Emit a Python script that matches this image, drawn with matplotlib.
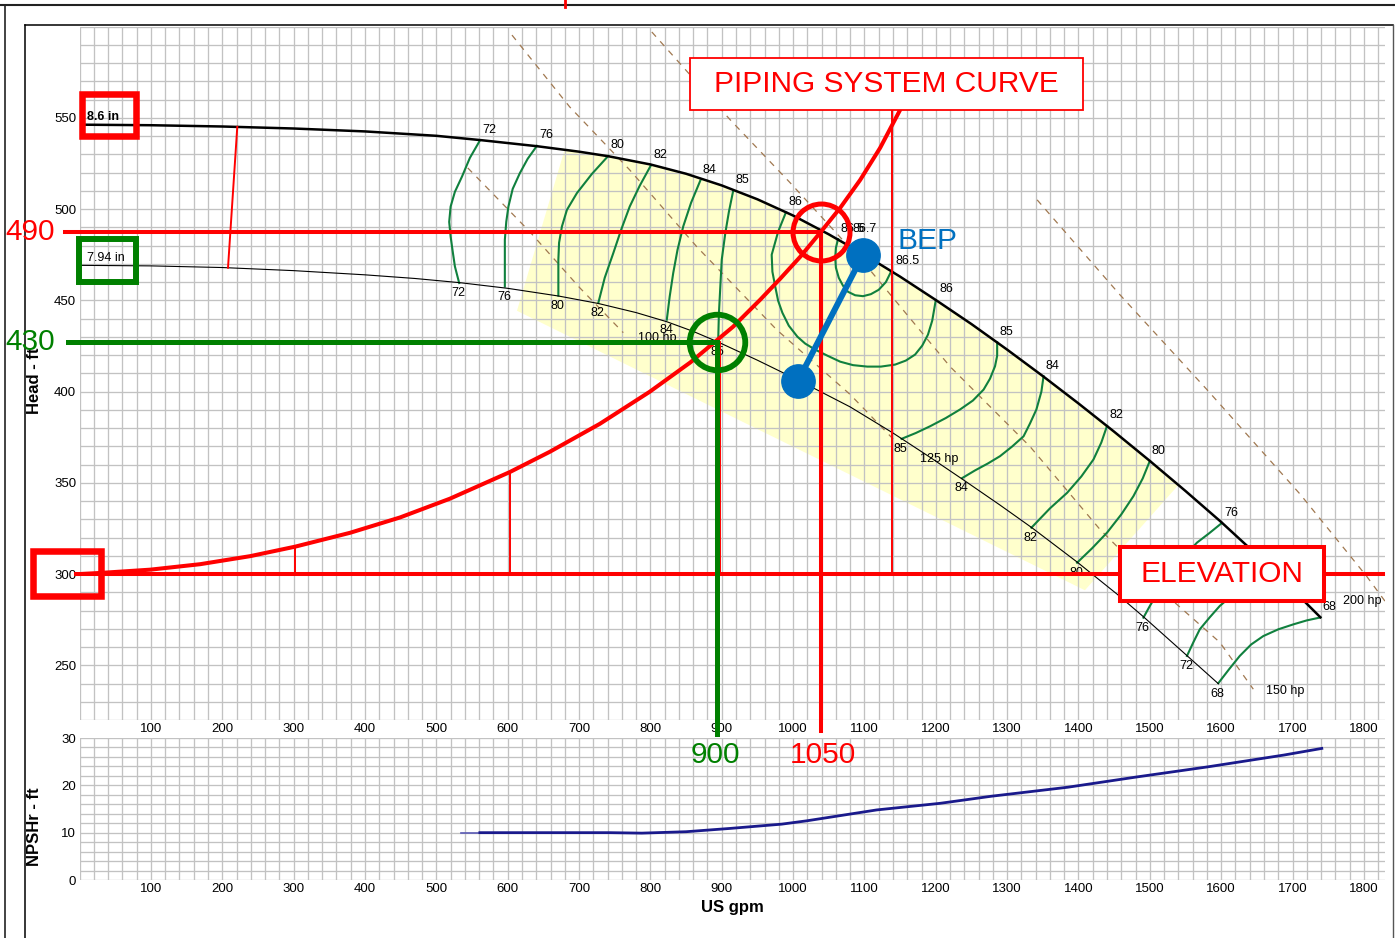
import matplotlib
matplotlib.use("Agg")
import matplotlib.pyplot as plt
import numpy as np
from matplotlib.lines import Line2D
from matplotlib.patches import Rectangle, Polygon
from matplotlib.ticker import MultipleLocator, FixedLocator

plt.rcParams['font.family'] = ['Liberation Sans', 'DejaVu Sans']

# impeller curves (US gpm, ft)
flow_86 = [0, 100, 200, 300, 400, 500, 563, 641, 700, 741, 800, 850, 900, 950, 1000, 1050,
           1100, 1150, 1200, 1250, 1300, 1350, 1400, 1450, 1500, 1550, 1600, 1650, 1700, 1739]
head_86 = [546.3, 546.0, 545.3, 544.2, 542.6, 540.2, 537.8, 534.5, 531.5, 529.0, 524.5, 519.4,
           513.0, 505.4, 496.5, 486.2, 475.0, 463.0, 450.2, 437.0, 423.0, 408.5, 393.5, 378.0,
           362.0, 345.5, 328.5, 310.5, 291.5, 276.3]
flow_794 = [0, 100, 200, 300, 400, 470, 533, 600, 671, 727, 780, 823, 860, 893, 950, 1006,
            1080, 1140, 1190, 1238, 1290, 1335, 1398, 1454, 1491, 1552, 1596]
head_794 = [469.2, 468.9, 468.0, 466.3, 464.0, 462.0, 459.7, 456.6, 452.4, 448.3, 443.3, 438.3,
            433.0, 427.5, 417.2, 406.5, 391.6, 377.3, 364.5, 351.8, 337.8, 325.3, 306.6, 289.0,
            276.6, 255.3, 239.9]

# piping system curve
sys_flow = [0, 29, 99, 169, 239, 302, 379, 449, 519, 603, 659, 729, 799, 856, 916, 954, 982,
            1010, 1039, 1066, 1094, 1122, 1150, 1164]
sys_head = [300, 300.6, 302.4, 305.4, 309.8, 315.0, 322.6, 331.0, 341.3, 355.9, 367.0, 382.3,
            399.9, 416.0, 435.6, 450.4, 461.9, 473.9, 487.6, 500.7, 516.0, 533.6, 554.4, 565.3]
elevation = 300
fric_q = [302, 603, 898, 1138]
fric_top = [315.0, 355.9, 427.3, 554.4]
shut_q = [221, 208]
shut_h = [545.1, 467.9]

# operating points (as drawn) and BEP on both impellers
op_q, op_h = 1039, 487.6
op2_q, op2_h = 893.4, 427.3
bep_q = [1098, 1007]
bep_h = [475.0, 406.0]

# efficiency contours
eff72_l_q = [561, 547, 536, 526, 520, 518, 520, 523, 526, 532]
eff72_l_h = [537.6, 528.1, 517.9, 509.5, 501.4, 493.0, 485.0, 476.6, 468.6, 459.5]
eff76_l_q = [641, 628, 617, 607, 601, 598, 596, 596, 596]
eff76_l_h = [534.7, 527.6, 519.7, 511.1, 501.4, 493.1, 483.2, 470.1, 457.6]
eff80_l_q = [741, 718, 697, 683, 676, 672, 671, 671]
eff80_l_h = [529.2, 519.3, 508.8, 499.6, 490.5, 481.6, 472.3, 452.6]
eff82_l_q = [801, 785, 771, 759, 748, 736, 727]
eff82_l_h = [524.2, 512.8, 501.4, 488.7, 475.9, 462.4, 448.6]
eff84_l_q = [870, 857, 846, 838, 832, 827, 823]
eff84_l_h = [515.7, 503.5, 490.5, 477.7, 465.0, 452.0, 439.4]
eff85_l_q = [916, 910, 905, 900, 898, 896, 895]
eff85_l_h = [510.0, 498.5, 486.9, 472.3, 457.6, 442.7, 427.5]
eff86_q = [990, 979, 970, 971, 975, 979, 985, 994, 1006, 1017, 1031, 1048, 1066, 1084, 1104,
           1123, 1143, 1158, 1171, 1181, 1189, 1195, 1200]
eff86_h = [498.3, 487.6, 475.0, 465.7, 457.5, 449.8, 443.2, 436.1, 430.1, 426.3, 423.0, 419.7,
           416.4, 414.5, 413.7, 413.7, 414.8, 417.0, 420.3, 425.2, 431.2, 438.9, 450.2]
eff865_q = [1063, 1060, 1059, 1060, 1064, 1070, 1077, 1087, 1098, 1109, 1120, 1130, 1137]
eff865_h = [483.6, 478.8, 473.4, 467.9, 462.4, 458.0, 454.7, 452.8, 452.3, 453.4, 455.8, 460.0, 465.5]
eff85_r_q = [1286, 1286, 1283, 1276, 1267, 1252, 1234, 1214, 1192, 1172, 1152]
eff85_r_h = [427.0, 419.6, 413.9, 407.1, 401.1, 395.1, 390.2, 385.5, 381.0, 377.3, 374.1]
eff84_r_q = [1351, 1348, 1341, 1332, 1323, 1307, 1290, 1273, 1255, 1237]
eff84_r_h = [408.4, 400.0, 390.2, 382.5, 375.5, 369.9, 364.6, 360.6, 356.8, 352.6]
eff82_r_q = [1440, 1432, 1421, 1404, 1384, 1360, 1334]
eff82_r_h = [381.2, 372.1, 362.8, 353.5, 344.5, 336.0, 325.4]
eff80_r_q = [1500, 1490, 1477, 1460, 1440, 1419, 1398]
eff80_r_h = [362.0, 352.4, 342.7, 332.7, 322.7, 314.1, 306.2]
eff76_r_q = [1601, 1583, 1566, 1547, 1528, 1514, 1500, 1491]
eff76_r_h = [328.0, 322.3, 317.2, 309.1, 299.8, 291.6, 282.5, 276.1]
eff72_r_q = [1661, 1643, 1626, 1612, 1598, 1584, 1570, 1561, 1552]
eff72_r_h = [306.0, 298.2, 291.6, 287.2, 282.5, 276.3, 269.7, 262.6, 255.1]
eff68_q = [1739, 1720, 1701, 1680, 1659, 1642, 1626, 1611, 1596]
eff68_h = [276.2, 274.6, 272.4, 269.7, 266.0, 261.4, 255.1, 247.8, 240.2]

# power lines
hp100_q = [544, 631, 701, 762]
hp100_h = [522.6, 487.6, 456.9, 432.3]
hp125_q = [606, 687, 771, 865, 977, 1080, 1157]
hp125_h = [595.4, 556.0, 521.5, 479.4, 433.9, 398.4, 367.2]
hp150_q = [802, 912, 996, 1104, 1220, 1332, 1430, 1514, 1598, 1645]
hp150_h = [597.1, 548.9, 514.4, 468.4, 413.7, 369.9, 324.5, 291.6, 262.6, 236.9]
hp200_q = [1342, 1458, 1580, 1711, 1804, 1840]
hp200_h = [505.1, 453.1, 401.1, 343.6, 298.7, 279.6]

# preferred region corners (upper edge follows the 8.6 in curve)
por_q = [1540, 1409, 613, 680]
por_h = [348.8, 291.1, 444.3, 532.9]

# NPSHr
npsh_flow = [534, 561, 743, 788, 850, 912, 984, 1019, 1117, 1206, 1278, 1385, 1483, 1581, 1688, 1741]
npsh_ft = [10.0, 10.0, 10.0, 9.9, 10.2, 10.9, 11.8, 12.5, 14.8, 16.2, 17.7, 19.6, 21.8, 23.9, 26.4, 27.8]

gpm_ticks = list(range(100, 1900, 100))
head_ticks = [250, 300, 350, 400, 450, 500, 550]
npsh_ticks = [0, 10, 20, 30]

RED = '#ff0000'
GRN = '#008000'
EFF = '#10803e'
BLUE = '#0070c0'

W, H = 1395, 938
fig = plt.figure(figsize=(W / 100, H / 100), dpi=100)
ax = fig.add_axes([79.6 / W, 1 - 720 / H, 1305.7 / W, 693.3 / H])
axn = fig.add_axes([79.6 / W, 1 - 880 / H, 1305.7 / W, 142 / H])
ax.set_zorder(3)
axn.set_zorder(1)


def style_grid(a, ylim, yticks, yminor):
    a.set_xlim(0, 1830)
    a.set_ylim(*ylim)
    a.xaxis.set_major_locator(FixedLocator(gpm_ticks))
    a.xaxis.set_minor_locator(MultipleLocator(20))
    a.yaxis.set_major_locator(FixedLocator(yticks))
    a.yaxis.set_minor_locator(MultipleLocator(yminor))
    a.grid(which='both', color='#c2c2c2', lw=0.95)
    a.set_axisbelow('line')
    a.tick_params(which='both', length=0, labelsize=9.5, pad=2.5)
    for s in a.spines.values():
        s.set_visible(False)


style_grid(ax, (220, 600), head_ticks, 10)
style_grid(axn, (0, 30), npsh_ticks, 2)

# preferred operating region
top_q = [q for q in flow_86 if por_q[3] < q < por_q[0]]
top_h = [h for q, h in zip(flow_86, head_86) if por_q[3] < q < por_q[0]]
poly = [(por_q[3], por_h[3])] + list(zip(top_q, top_h)) + [(por_q[0], por_h[0]),
                                                          (por_q[1], por_h[1]),
                                                          (por_q[2], por_h[2])]
ax.add_patch(Polygon(poly, closed=True, fc='#ffffcc', ec='none', zorder=1))

# power lines
for q, h in [(hp100_q, hp100_h), (hp125_q, hp125_h), (hp150_q, hp150_h), (hp200_q, hp200_h)]:
    ax.plot(q, h, color='#a07850', lw=0.9, dashes=(5, 5), zorder=2)
hp_style = dict(fontsize=9, textcoords='offset points', ha='left', va='center', zorder=3)
ax.annotate('100 hp', (hp100_q[-1], hp100_h[-1]), xytext=(10.5, -3.5), **hp_style)
ax.annotate('125 hp', (hp125_q[-1], hp125_h[-1]), xytext=(10.5, -5.5), **hp_style)
ax.annotate('150 hp', (hp150_q[-1], hp150_h[-1]), xytext=(9.5, -1.5), **hp_style)
ax.text(1771, 285, '200 hp', fontsize=9, ha='left', va='center', zorder=3)

# efficiency contours: (q, h, label, how the far end is labelled, label the near end)
contours = [
    (eff72_l_q, eff72_l_h, '72', 'bottom', True), (eff76_l_q, eff76_l_h, '76', 'bottom', True),
    (eff80_l_q, eff80_l_h, '80', 'bottom', True), (eff82_l_q, eff82_l_h, '82', 'bottom', True),
    (eff84_l_q, eff84_l_h, '84', 'bottom', True), (eff85_l_q, eff85_l_h, '85', 'bottom', True),
    (eff86_q, eff86_h, '86', 'top', True), (eff865_q, eff865_h, '86.5', 'top', True),
    (eff85_r_q, eff85_r_h, '85', 'bottom', True), (eff84_r_q, eff84_r_h, '84', 'bottom', True),
    (eff82_r_q, eff82_r_h, '82', 'bottom', True), (eff80_r_q, eff80_r_h, '80', 'bottom', True),
    (eff76_r_q, eff76_r_h, '76', 'bottom', True), (eff72_r_q, eff72_r_h, '72', 'bottom', False),
    (eff68_q, eff68_h, '68', 'bottom', True),
]
top_lab = dict(fontsize=9, textcoords='offset points', ha='left', va='center', zorder=3)
bot_lab = dict(fontsize=9, textcoords='offset points', ha='center', va='center', zorder=3)
for q, h, lab, end, near in contours:
    ax.plot(q, h, color=EFF, lw=1.5, zorder=2.2)
    if near:
        ax.annotate(lab, (q[0], h[0]), xytext=(1.5, 7.5), **top_lab)
    if end == 'bottom':
        ax.annotate(lab, (q[-1], h[-1]), xytext=(-0.5, -7.5), **bot_lab)
    else:
        ax.annotate(lab, (q[-1], h[-1]), xytext=(3, 8), **top_lab)

# impeller curves
ax.plot(flow_86, head_86, color='black', lw=1.8, zorder=2.5)
ax.plot(flow_794, head_794, color='black', lw=0.8, zorder=2.5)
ax.text(10.4, 550.5, '8.6 in', fontsize=9, fontweight='bold', ha='left', va='center', zorder=3)
ax.text(10.4, 473.4, '7.94 in', fontsize=9, ha='left', va='center', zorder=3)
ax.annotate('86.7', (bep_q[0], bep_h[0]), xytext=(1.5, 18.5), textcoords='offset points',
            fontsize=9, ha='center', va='center', zorder=3)

# piping system annotations
ax.plot(sys_flow, sys_head, color=RED, lw=2.9, zorder=4, solid_capstyle='butt')
ax.plot([-5, 1827], [elevation, elevation], color=RED, lw=2.9, zorder=4, clip_on=False)
for q, h in zip(fric_q, fric_top):
    ax.plot([q, q], [elevation, h], color=RED, lw=1.4, zorder=4)
ax.plot(shut_q, shut_h, color=RED, lw=1.4, zorder=4)
ax.plot([680.3, 680.3], [610.8, 614.6], color=RED, lw=2, clip_on=False, zorder=4)

ax.plot([-20.5, op_q], [op_h, op_h], color=RED, lw=2.9, zorder=4, clip_on=False)
ax.plot([op_q, op_q], [op_h, 214], color=RED, lw=2.9, zorder=4, clip_on=False)
ax.plot([-16.3, op2_q], [op2_h, op2_h], color=GRN, lw=3.6, zorder=4, clip_on=False)
ax.plot([op2_q, op2_q], [op2_h, 212.5], color=GRN, lw=3.6, zorder=4, clip_on=False)
ax.plot(op_q, op_h, 'o', ms=41, mfc='none', mec=RED, mew=3.6, zorder=5)
ax.plot(op2_q, op2_h, 'o', ms=40, mfc='none', mec=GRN, mew=4.2, zorder=5)

big = dict(fontsize=21.5, textcoords='offset points', zorder=6, annotation_clip=False)
ax.annotate('490', (0, op_h), xytext=(-53.7, 0), color=RED, ha='left', va='center', **big)
ax.annotate('430', (0, op2_h), xytext=(-53.7, 0), color=GRN, ha='left', va='center', **big)
ax.annotate('900', (op2_q, 220), xytext=(-1.5, -25), color=GRN, ha='center', va='center', **big)
ax.annotate('1050', (op_q, 220), xytext=(1.5, -25), color=RED, ha='center', va='center', **big)

# BEP
ax.plot(bep_q, bep_h, color=BLUE, lw=4.3, zorder=5, solid_capstyle='butt')
ax.plot(bep_q, bep_h, 'o', ms=24, color=BLUE, zorder=5)
ax.annotate('BEP', (bep_q[0], bep_h[0]), xytext=(25, 10), color=BLUE, ha='left', va='center', **big)

# label boxes
ax.add_patch(Rectangle((3.4, 540.1), 75.6, 23.0, fill=False, ec=RED, lw=4.7, zorder=6, clip_on=False))
ax.add_patch(Rectangle((-0.8, 460.2), 79.8, 23.6, fill=False, ec=GRN, lw=4.3, zorder=6, clip_on=False))
ax.add_patch(Rectangle((-66, 287.8), 96, 24.9, fill=False, ec=RED, lw=4.7, zorder=6, clip_on=False))

ax.add_patch(Rectangle((855.5, 554.4), 550.9, 28.4, fc='white', ec=RED, lw=1.3, zorder=6))
ax.text(1130.9, 568.6, 'PIPING SYSTEM CURVE', color=RED, fontsize=21.5,
        ha='center', va='center', zorder=7)
ax.add_patch(Rectangle((1458.2, 285.4), 285.9, 29.2, fc='white', ec=RED, lw=2.9, zorder=6))
ax.text(1601, 300, 'ELEVATION', color=RED, fontsize=21.5, ha='center', va='center', zorder=7)

ax.text(-0.0342, 0.490, 'Head - ft', transform=ax.transAxes, rotation=90, ha='center',
        va='center', fontsize=12, fontweight='bold')

# NPSHr panel
axn.plot(npsh_flow[:2], npsh_ft[:2], color='#5a5ab4', lw=1.2, zorder=2)
axn.plot(npsh_flow[1:], npsh_ft[1:], color='#1a1a8c', lw=2.0, zorder=2)
axn.set_xlabel('US gpm', fontsize=12, fontweight='bold', labelpad=3)
axn.text(-0.0342, 0.373, 'NPSHr - ft', transform=axn.transAxes, rotation=90, ha='center',
         va='center', fontsize=12, fontweight='bold')

# page frame
for xs, ys, c, w in [([0, W], [5, 5], '#222222', 1.5), ([5, 5], [5, H], '#222222', 1.2),
                     ([25, 1393], [25, 25], 'black', 1.1), ([25, 25], [25, H], 'black', 1.1),
                     ([1393, 1393], [25, H], '#555555', 1.0)]:
    fig.add_artist(Line2D([x / W for x in xs], [1 - y / H for y in ys], color=c, lw=w,
                          transform=fig.transFigure))

fig.savefig('out.png', dpi=100)
